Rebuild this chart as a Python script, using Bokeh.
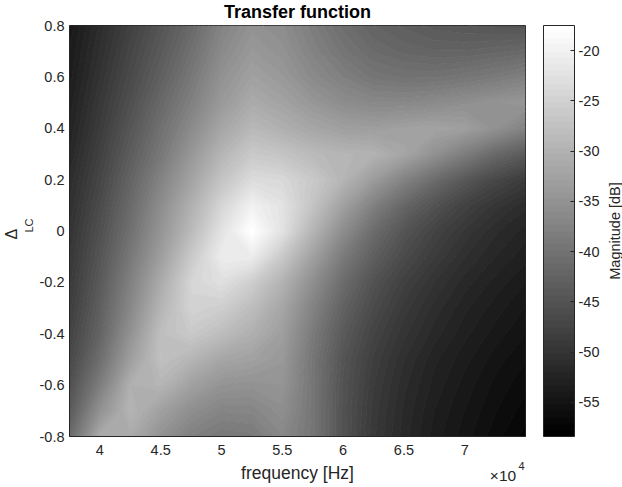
import numpy as np
from bokeh.plotting import figure
from bokeh.layouts import row
from bokeh.models import (LinearColorMapper, ColorBar, FixedTicker, Range1d,
                          LinearAxis, Title)
from bokeh.embed import file_html
from bokeh.resources import INLINE

# Sample grid of the transfer function magnitude
freq_hz = [37500, 40000, 42500, 45000, 47500, 50000, 52500, 55000,
           57500, 60000, 62500, 65000, 67500, 70000, 72500, 75000]
delta_lc = [-0.8, -0.7, -0.6, -0.5, -0.4, -0.3, -0.2, -0.1, 0.0,
            0.1, 0.2, 0.3, 0.4, 0.5, 0.6, 0.7, 0.8]

# Magnitude [dB], one list per delta_lc row, one value per freq_hz column
mag_m08 = [-41.6, -31.1, -31.1, -35.1, -37.9, -39.2, -38.8, -36.7, -39.5, -45.2, -49.3, -51.7, -53.6, -54.9, -56.2, -57.4]
mag_m07 = [-44.0, -35.1, -29.5, -32.7, -35.6, -37.2, -37.1, -35.6, -39.5, -45.2, -49.1, -51.5, -53.3, -54.6, -55.8, -56.8]
mag_m06 = [-45.6, -38.4, -30.3, -29.5, -32.7, -34.8, -35.1, -34.7, -39.5, -45.1, -48.8, -51.2, -52.9, -54.2, -55.4, -56.3]
mag_m05 = [-46.9, -40.8, -33.1, -27.6, -29.5, -31.9, -32.7, -34.0, -39.5, -44.8, -48.3, -50.7, -52.5, -53.7, -54.9, -55.8]
mag_m04 = [-47.7, -42.4, -35.1, -27.9, -26.3, -28.2, -30.3, -33.1, -38.8, -44.0, -47.5, -49.9, -51.7, -53.1, -54.2, -55.2]
mag_m03 = [-48.5, -43.2, -36.7, -29.5, -24.7, -25.5, -28.2, -31.9, -37.5, -42.7, -46.4, -49.1, -51.0, -52.5, -53.6, -54.6]
mag_m02 = [-49.1, -44.0, -37.9, -31.1, -24.4, -22.8, -25.5, -29.9, -35.6, -41.1, -45.2, -48.0, -50.1, -51.7, -52.9, -53.9]
mag_m01 = [-49.6, -44.8, -39.2, -33.1, -26.3, -20.7, -20.7, -26.3, -32.7, -38.8, -43.2, -46.4, -48.8, -50.7, -52.0, -53.1]
mag_000 = [-50.1, -45.6, -40.4, -34.7, -28.7, -22.3, -17.5, -22.3, -29.5, -35.9, -41.1, -44.8, -47.5, -49.6, -51.2, -52.3]
mag_p01 = [-50.7, -46.4, -41.4, -35.9, -30.3, -24.4, -19.9, -22.3, -27.1, -32.7, -37.9, -42.0, -45.2, -47.8, -49.7, -51.2]
mag_p02 = [-51.3, -47.2, -42.4, -37.5, -32.4, -27.1, -23.4, -23.9, -26.3, -29.5, -33.5, -37.5, -41.1, -44.3, -46.9, -48.8]
mag_p03 = [-52.0, -48.0, -43.6, -39.2, -34.3, -29.5, -26.3, -27.1, -28.7, -29.5, -29.9, -31.9, -35.1, -38.4, -41.6, -44.0]
mag_p04 = [-52.6, -48.8, -44.6, -40.4, -36.3, -31.9, -29.0, -30.3, -31.9, -33.0, -33.2, -32.7, -32.3, -33.0, -35.1, -37.5]
mag_p05 = [-53.1, -49.4, -45.6, -41.7, -37.9, -33.9, -31.1, -32.4, -34.3, -35.9, -36.7, -36.7, -36.3, -35.6, -34.8, -34.3]
mag_p06 = [-53.6, -50.1, -46.5, -43.0, -39.2, -35.1, -32.7, -34.0, -36.3, -38.0, -39.5, -40.0, -40.0, -39.5, -38.8, -37.9]
mag_p07 = [-53.9, -50.7, -47.2, -44.0, -40.4, -36.4, -34.0, -35.1, -37.5, -39.6, -41.2, -42.0, -42.4, -42.4, -42.0, -41.6]
mag_p08 = [-54.4, -51.2, -48.0, -44.8, -41.6, -37.5, -35.1, -35.9, -38.4, -40.8, -42.4, -43.2, -44.0, -44.3, -44.6, -44.8]

# Axis ticks and labels
freq_ticks = [40000, 45000, 50000, 55000, 60000, 65000, 70000]
freq_tick_labels = ["4", "4.5", "5", "5.5", "6", "6.5", "7"]
freq_scale_pos, freq_scale_label = 73150, "×10"
freq_power_pos, freq_power_label = 74670, "4"
delta_ticks = [-0.8, -0.6, -0.4, -0.2, 0, 0.2, 0.4, 0.6, 0.8]
delta_tick_labels = ["-0.8", "-0.6", "-0.4", "-0.2", "0", "0.2", "0.4", "0.6", "0.8"]
cbar_ticks = [-55, -50, -45, -40, -35, -30, -25, -20]
cbar_tick_labels = ["-55", "-50", "-45", "-40", "-35", "-30", "-25", "-20"]
cbar_low, cbar_high = -58.4, -17.5
n_colors = 64

rows = [mag_m08, mag_m07, mag_m06, mag_m05, mag_m04, mag_m03, mag_m02, mag_m01, mag_000,
        mag_p01, mag_p02, mag_p03, mag_p04, mag_p05, mag_p06, mag_p07, mag_p08]
mag = np.array(rows, dtype=float)

FONT = "Liberation Sans"
INK = "#262626"
TOP, BOTTOM = 25, 51


def grey(t):
    g = int(round(255 * min(max(t, 0.0), 1.0)))
    return "#%02x%02x%02x" % (g, g, g)


# 64-step grey colormap; one fill colour per band, one edge colour per level
levels = np.linspace(cbar_low, cbar_high, n_colors + 1)
band_colors = [grey(i / (n_colors - 1)) for i in range(n_colors)]
edge_colors = [grey(i / n_colors) for i in range(n_colors + 1)]
mapper = LinearColorMapper(palette=band_colors, low=cbar_low, high=cbar_high)

p = figure(width=604, height=487, output_backend="svg", toolbar_location=None,
           x_range=Range1d(freq_hz[0], freq_hz[-1]),
           y_range=Range1d(delta_lc[0], delta_lc[-1]),
           min_border_left=68, min_border_right=79,
           min_border_top=TOP, min_border_bottom=BOTTOM)

p.contour(x=freq_hz, y=delta_lc, z=mag, levels=levels,
          fill_color=band_colors, line_color=edge_colors, line_width=1.2)

p.title.text = "Transfer function"
p.title.align = "center"
p.title.vertical_align = "top"
p.title.text_font = FONT
p.title.text_font_size = "18px"
p.title.text_font_style = "bold"
p.title.text_color = "#000000"
p.title.standoff = 3

p.grid.visible = False
p.outline_line_color = INK
p.outline_line_width = 1
p.background_fill_color = "white"
p.border_fill_color = "white"

xa = p.xaxis[0]
xa.ticker = FixedTicker(ticks=freq_ticks)
xa.major_label_overrides = dict(zip(freq_ticks, freq_tick_labels))
xa.axis_label = "frequency [Hz]"
ya = p.yaxis[0]
ya.ticker = FixedTicker(ticks=delta_ticks)
ya.major_label_overrides = dict(zip(delta_ticks, delta_tick_labels))
for ax in (xa, ya):
    ax.major_tick_in = 0
    ax.major_tick_out = 0
    ax.minor_tick_in = 0
    ax.minor_tick_out = 0
    ax.axis_line_color = INK
    ax.major_label_text_font = FONT
    ax.major_label_text_font_size = "14.5px"
    ax.major_label_text_color = INK
    ax.axis_label_text_font = FONT
    ax.axis_label_text_font_size = "17.5px"
    ax.axis_label_text_font_style = "normal"
    ax.axis_label_text_color = INK
xa.major_label_standoff = 8
xa.axis_label_standoff = 5
ya.major_label_standoff = 5


def bare_axis(pos, label, size, standoff):
    return LinearAxis(ticker=FixedTicker(ticks=[pos]),
                      major_label_overrides={pos: label},
                      axis_line_color=None, major_tick_in=0, major_tick_out=0,
                      minor_tick_in=0, minor_tick_out=0,
                      major_label_standoff=standoff, major_label_text_font=FONT,
                      major_label_text_font_size=size, major_label_text_color=INK)


# Power-of-ten multiplier of the frequency axis, tucked under the last tick
p.add_layout(bare_axis(freq_scale_pos, freq_scale_label, "15.5px", -19), "below")
p.add_layout(bare_axis(freq_power_pos, freq_power_label, "11px", -25), "below")

# y-axis label: Delta with subscript LC, stacked outward from the axis
p.add_layout(Title(text="LC", align="left", offset=204, standoff=3,
                   text_font=FONT, text_font_size="11px",
                   text_font_style="normal", text_color=INK), "left")
p.add_layout(Title(text="Δ", align="left", offset=197, standoff=0,
                   text_font=FONT, text_font_size="16px",
                   text_font_style="normal", text_color=INK), "left")

cbar = ColorBar(color_mapper=mapper, ticker=FixedTicker(ticks=cbar_ticks),
                major_label_overrides=dict(zip(cbar_ticks, cbar_tick_labels)),
                width=31, height=411, padding=0, margin=0, location=(18, 0),
                bar_line_color=INK, bar_line_width=1,
                major_tick_line_color=INK, major_tick_in=4, major_tick_out=0,
                minor_tick_line_color=None,
                label_standoff=4, major_label_text_font=FONT,
                major_label_text_font_size="14.5px", major_label_text_color=INK,
                background_fill_alpha=0, border_line_color=None)
p.add_layout(cbar, "right")

# Narrow strip to the right carrying the colour bar caption as an axis label
pc = figure(width=18, height=487, output_backend="svg", toolbar_location=None,
            x_range=Range1d(0, 1), y_range=Range1d(cbar_low, cbar_high),
            min_border_left=0, min_border_right=0,
            min_border_top=TOP, min_border_bottom=BOTTOM)
pc.xaxis.visible = False
pc.grid.visible = False
pc.outline_line_color = None
pc.background_fill_color = "white"
pc.border_fill_color = "white"
cy = pc.yaxis[0]
cy.ticker = FixedTicker(ticks=[])
cy.axis_line_color = None
cy.major_tick_in = 0
cy.major_tick_out = 0
cy.minor_tick_in = 0
cy.minor_tick_out = 0
cy.major_label_standoff = 0
cy.major_label_text_font_size = "0px"
cy.axis_label = "Magnitude [dB]"
cy.axis_label_standoff = 0
cy.axis_label_text_font = FONT
cy.axis_label_text_font_size = "14.5px"
cy.axis_label_text_font_style = "normal"
cy.axis_label_text_color = INK

layout = row(p, pc)
open("out.html", "w").write(file_html(layout, INLINE))
